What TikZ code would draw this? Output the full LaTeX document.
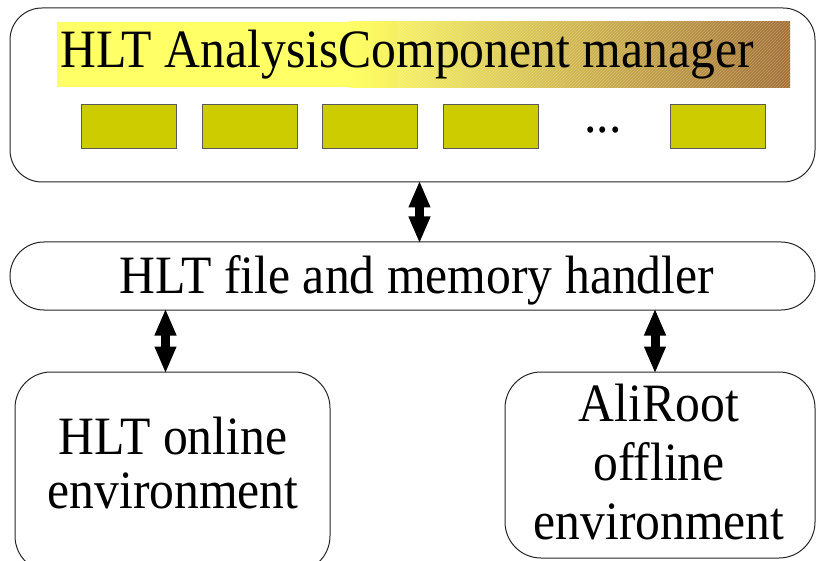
\documentclass[tikz,border=0pt]{standalone}
\usepackage{fontspec}
\setmainfont[FakeStretch=0.92]{Liberation Serif}
\usetikzlibrary{arrows.meta,patterns}
\definecolor{banneryellow}{RGB}{255,255,102}
\definecolor{bannermid}{RGB}{228,205,88}
\definecolor{bannerbrown}{RGB}{162,112,55}
\definecolor{compfill}{RGB}{204,204,0}
\begin{document}
\begin{tikzpicture}[x=1pt,y=-1pt,
  frame/.style={draw=black!85, line width=1pt, fill=white, inner sep=0pt},
  comp/.style={draw=black!65, line width=0.8pt, fill=compfill,
    minimum width=95pt, minimum height=44pt, inner sep=0pt},
  lbl/.style={font=\fontsize{54}{54}\selectfont, align=center, inner sep=0pt},
  link/.style={{Triangle[width=20pt,length=27pt]}-{Triangle[width=20pt,length=27pt]},
    line width=9pt, shorten <=-2pt, shorten >=-2pt}
]
\useasboundingbox (0,0) rectangle (816,561);

% analysis component manager
\node[frame, rounded corners=32pt, minimum width=805pt, minimum height=174pt] (mgr) at (412.5,95) {};
\node[inner sep=0pt, minimum width=733pt, minimum height=65pt] (banner) at (423.5,54.5) {};
\fill[banneryellow] (banner.north west) rectangle ([xshift=-440pt]banner.south east);
\shade[left color=banneryellow, middle color=bannermid, right color=bannerbrown]
  ([xshift=293pt]banner.north west) rectangle (banner.south east);
\fill[pattern=north east lines, pattern color=white, opacity=0.25]
  ([xshift=340pt]banner.north west) rectangle (banner.south east);
\node[lbl, anchor=base] (title) at (407,68) {HLT AnalysisComponent manager};

\node[comp] (c1) at (129,126) {};
\node[comp] (c2) at (249.5,126) {};
\node[comp] (c3) at (370,126) {};
\node[comp] (c4) at (490.5,126) {};
\node[lbl, anchor=base] (dots) at (603,133) {...};
\node[comp] (c5) at (718,126) {};

% file and memory handler
\node[frame, rounded corners=34pt, minimum width=805pt, minimum height=68pt] (handler) at (412.5,276) {};
\node[lbl, anchor=base] (handlertext) at (417,294) {HLT file and memory handler};

% environments
\node[frame, rounded corners=36pt, minimum width=315pt, minimum height=200pt] (online) at (172.5,472) {};
\node[lbl] (onlinetext) at (173,463) {HLT online\\environment};
\node[frame, rounded corners=36pt, minimum width=310pt, minimum height=186pt] (offline) at (660,465) {};
\node[lbl, font=\fontsize{54}{59}\selectfont] (offlinetext) at (659,462.5) {AliRoot\\offline\\environment};

% connections
\draw[link] ([xshift=7pt]mgr.south) -- ([xshift=7pt]handler.north);
\draw[link] ([xshift=-7pt]handler.south -| online.north) -- ([xshift=-7pt]online.north);
\draw[link] ([xshift=-5pt]handler.south -| offline.north) -- ([xshift=-5pt]offline.north);
\end{tikzpicture}
\end{document}
